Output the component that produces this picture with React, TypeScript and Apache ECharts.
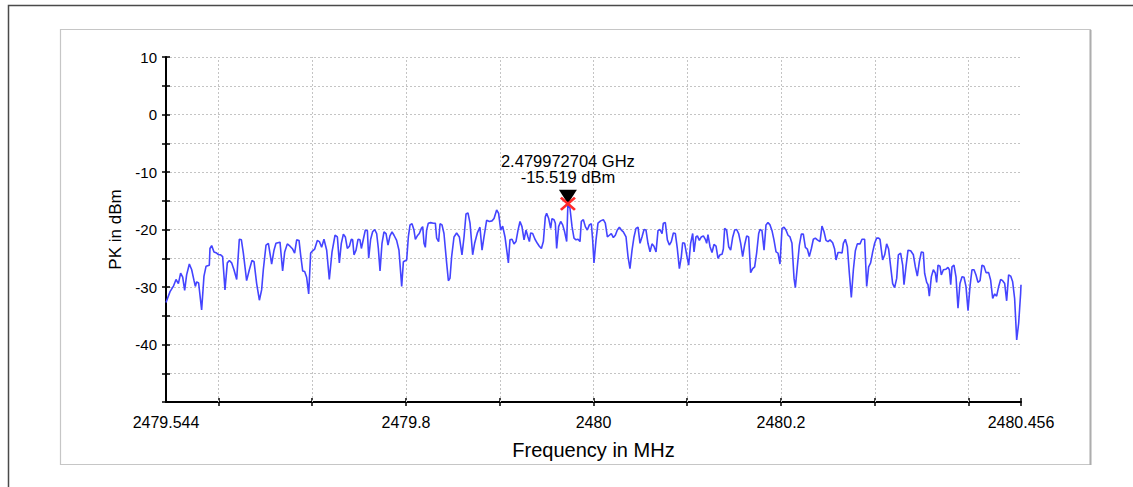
import React, { useEffect, useRef } from "react";
import * as echarts from "echarts";

const FREQ_START = 2479.544;
const FREQ_STOP = 2480.456;
const LEVEL_MIN = -50;
const LEVEL_MAX = 10;
const LEVEL_STEP = 5;

const X_LABELS = [2479.544, 2479.8, 2480, 2480.2, 2480.456];
const X_GRID = [2479.6, 2479.7, 2479.8, 2479.9, 2480.0, 2480.1, 2480.2, 2480.3, 2480.4, 2480.456];

const PEAK_FREQ = 2479.972704;
const PEAK_LEVEL = -15.519;
const PEAK_LABEL = ["2.479972704 GHz", "-15.519 dBm"];

const X_NAME = "Frequency in MHz";
const Y_NAME = "PK in dBm";

// [frequency MHz, level dBm]
const TRACE: [number, number][] = [
  [2479.544, -32.7], [2479.5483, -30.8], [2479.5518, -29.9], [2479.5547, -28.7], [2479.5572, -29.4],
  [2479.5596, -27.6], [2479.5618, -28.3], [2479.5639, -30.6], [2479.566, -27.9], [2479.5689, -26.0],
  [2479.5714, -27.0], [2479.5739, -28.9], [2479.5753, -29.9], [2479.5767, -29.1], [2479.5788, -29.3],
  [2479.582, -34.0], [2479.5845, -28.1], [2479.5867, -26.4], [2479.5902, -26.2], [2479.5909, -23.3],
  [2479.5927, -22.8], [2479.5952, -23.9], [2479.598, -24.1], [2479.6002, -24.4], [2479.6023, -24.4],
  [2479.6044, -24.7], [2479.6069, -30.5], [2479.6094, -25.8], [2479.6116, -25.4], [2479.614, -25.8],
  [2479.6165, -27.0], [2479.6194, -28.7], [2479.6222, -21.7], [2479.6244, -21.8], [2479.6265, -24.1],
  [2479.63, -28.9], [2479.6329, -27.0], [2479.6357, -25.4], [2479.6379, -25.6], [2479.6407, -29.4],
  [2479.6436, -32.3], [2479.646, -30.5], [2479.6478, -27.0], [2479.6507, -22.7], [2479.6532, -22.4],
  [2479.6567, -26.0], [2479.6592, -23.6], [2479.6613, -22.4], [2479.6656, -22.2],
  [2479.6684, -27.2], [2479.6706, -23.9], [2479.6734, -22.5], [2479.6763, -22.9], [2479.6791, -23.4],
  [2479.6812, -24.1], [2479.6834, -21.8], [2479.6859, -21.9], [2479.6876, -24.4], [2479.6898, -27.2],
  [2479.6919, -27.3], [2479.694, -28.3], [2479.6962, -31.2], [2479.6983, -24.1], [2479.7004, -23.7],
  [2479.7026, -23.4], [2479.7054, -21.9], [2479.7076, -22.1], [2479.71, -23.1], [2479.7125, -21.7],
  [2479.7154, -23.6], [2479.7182, -28.7], [2479.7211, -23.9], [2479.7243, -21.0], [2479.7268, -21.3],
  [2479.7289, -25.8], [2479.731, -22.4], [2479.7332, -20.8], [2479.7353, -21.3], [2479.7374, -23.3],
  [2479.7396, -22.9], [2479.7417, -21.7], [2479.7431, -21.8], [2479.7445, -24.4], [2479.7467, -23.6],
  [2479.7488, -21.7], [2479.7509, -21.8], [2479.7524, -23.3], [2479.7545, -21.7], [2479.7566, -20.1],
  [2479.7588, -20.2], [2479.7602, -25.0], [2479.7623, -21.7], [2479.7644, -20.4], [2479.7666, -20.0],
  [2479.7687, -20.7], [2479.7705, -23.3], [2479.7723, -27.2], [2479.7744, -22.4], [2479.7765, -20.4],
  [2479.7787, -20.7], [2479.7808, -22.7], [2479.7829, -21.1], [2479.7851, -20.4], [2479.7872, -21.0],
  [2479.79, -21.9], [2479.7925, -23.6], [2479.7954, -29.9],
  [2479.7972, -25.6], [2479.8007, -25.3], [2479.8025, -21.3], [2479.8043, -19.2], [2479.8064, -19.0],
  [2479.8085, -20.1], [2479.81, -21.7], [2479.8121, -21.1], [2479.8142, -20.7], [2479.8164, -19.8],
  [2479.8178, -19.5], [2479.8192, -22.4], [2479.8206, -23.1], [2479.822, -20.1], [2479.8238, -18.9],
  [2479.8263, -18.8], [2479.8292, -18.9], [2479.8313, -18.9], [2479.8327, -21.5], [2479.8348, -22.1],
  [2479.8363, -19.0], [2479.8384, -19.2], [2479.8405, -20.7], [2479.8434, -25.9], [2479.8452, -28.9],
  [2479.8469, -28.5], [2479.8487, -24.7], [2479.8512, -21.3], [2479.854, -20.6], [2479.8569, -21.3],
  [2479.8597, -24.4], [2479.8619, -21.3], [2479.864, -17.3], [2479.8661, -17.1], [2479.8683, -18.9],
  [2479.8711, -24.4], [2479.8732, -22.4], [2479.8761, -20.6], [2479.8789, -19.6], [2479.8811, -23.6],
  [2479.8832, -21.3], [2479.886, -18.4], [2479.8889, -18.6], [2479.8917, -18.5], [2479.8939, -18.1],
  [2479.8967, -16.6], [2479.8988, -17.2], [2479.901, -20.1], [2479.9031, -19.4], [2479.9056, -21.3],
  [2479.9081, -24.4], [2479.9092, -25.8], [2479.9109, -21.8], [2479.9131, -21.7], [2479.9152, -22.5],
  [2479.9173, -22.1], [2479.9195, -20.1], [2479.9216, -18.6],
  [2479.9237, -19.5], [2479.9259, -21.8], [2479.928, -20.1], [2479.9301, -21.3], [2479.9316, -22.1],
  [2479.933, -20.6], [2479.9351, -20.7], [2479.9376, -21.7], [2479.9401, -22.4], [2479.9422, -22.9],
  [2479.9444, -23.3], [2479.9465, -22.1], [2479.9486, -17.8], [2479.95, -17.2], [2479.9522, -18.1],
  [2479.9543, -19.8], [2479.9557, -18.1], [2479.9579, -18.3], [2479.9593, -18.9], [2479.9607, -23.3],
  [2479.9628, -19.5], [2479.965, -18.6], [2479.9671, -19.2], [2479.9692, -20.4], [2479.9714, -22.1],
  [2479.972704, -15.519], [2479.9749, -16.3], [2479.9771, -19.5], [2479.9792, -21.5], [2479.9813, -21.8],
  [2479.9835, -21.7], [2479.9856, -22.1], [2479.987, -18.6], [2479.9892, -18.3], [2479.9913, -19.5],
  [2479.9934, -20.1], [2479.9956, -19.2], [2479.9977, -19.0], [2479.9991, -21.8], [2480.0005, -25.8],
  [2480.0027, -21.8], [2480.0048, -18.9], [2480.0076, -18.5], [2480.0105, -18.3], [2480.0126, -18.9],
  [2480.0148, -21.3], [2480.0169, -21.0], [2480.019, -20.7], [2480.0212, -21.4], [2480.0233, -21.0],
  [2480.0254, -20.1], [2480.0276, -19.6], [2480.0297, -20.1], [2480.0318, -20.4], [2480.0347, -21.3],
  [2480.0368, -24.7], [2480.0389, -26.8], [2480.0411, -23.6], [2480.0432, -21.3], [2480.0453, -19.8],
  [2480.0475, -19.6], [2480.0496, -22.4],
  [2480.0517, -21.3], [2480.0539, -20.0], [2480.056, -20.1], [2480.0581, -22.4], [2480.0603, -23.9],
  [2480.0624, -22.5], [2480.0645, -22.9], [2480.0667, -23.9], [2480.0688, -20.2], [2480.0709, -20.0],
  [2480.0731, -20.7], [2480.0745, -18.9], [2480.0766, -18.8], [2480.0788, -21.8], [2480.0809, -22.7],
  [2480.083, -22.1], [2480.0852, -20.6], [2480.0873, -20.7], [2480.0894, -23.3], [2480.0916, -26.8],
  [2480.0937, -24.7], [2480.0951, -22.3], [2480.0972, -22.4], [2480.0994, -24.4], [2480.1015, -26.2],
  [2480.1036, -22.4], [2480.1058, -20.7], [2480.1072, -23.9], [2480.1093, -21.3], [2480.1108, -21.1],
  [2480.1129, -21.9], [2480.115, -21.3], [2480.1172, -21.1], [2480.1193, -21.7], [2480.1207, -22.4],
  [2480.1221, -20.9], [2480.1243, -23.0], [2480.1264, -24.0], [2480.1285, -22.6], [2480.1307, -22.9],
  [2480.1328, -25.0], [2480.1349, -24.4], [2480.1371, -24.3], [2480.1385, -23.4], [2480.1399, -19.8],
  [2480.142, -20.1], [2480.1442, -23.0], [2480.1463, -23.6], [2480.1484, -21.4], [2480.1506, -20.1],
  [2480.1527, -20.0], [2480.1548, -20.7], [2480.157, -22.4], [2480.1591, -24.7], [2480.1612, -22.7],
  [2480.1634, -21.1], [2480.1655, -21.3], [2480.1676, -27.5], [2480.1698, -26.8], [2480.1719, -26.5],
  [2480.174, -24.1], [2480.1762, -20.7],
  [2480.1776, -20.0], [2480.1797, -20.2], [2480.1819, -23.6], [2480.184, -19.2], [2480.1861, -18.8],
  [2480.1883, -19.2], [2480.1904, -20.2], [2480.1925, -21.8], [2480.1947, -23.9], [2480.1968, -24.1],
  [2480.1989, -26.0], [2480.2011, -19.8], [2480.2032, -19.6], [2480.2053, -20.1], [2480.2075, -21.0],
  [2480.2096, -21.3], [2480.2117, -22.4], [2480.2139, -28.5], [2480.2153, -30.1], [2480.2174, -26.5],
  [2480.2196, -22.7], [2480.2217, -20.8], [2480.2238, -20.8], [2480.226, -23.1], [2480.2281, -23.4],
  [2480.2302, -24.7], [2480.2324, -23.3], [2480.2345, -21.7], [2480.2366, -21.5], [2480.2388, -21.8],
  [2480.2416, -22.1], [2480.2437, -19.4], [2480.2459, -20.4], [2480.248, -21.9], [2480.2501, -22.1],
  [2480.2523, -21.8], [2480.2551, -22.3], [2480.2572, -23.4], [2480.2587, -25.3], [2480.2608, -24.0],
  [2480.2629, -24.0], [2480.2651, -24.1], [2480.2665, -22.4], [2480.2686, -21.7], [2480.2708, -23.0],
  [2480.2729, -27.6], [2480.275, -31.8], [2480.2772, -27.0], [2480.2793, -23.7], [2480.2814, -22.5],
  [2480.2843, -22.5], [2480.2864, -21.7], [2480.2892, -21.7], [2480.2914, -29.9], [2480.2935, -26.5],
  [2480.2956, -25.8], [2480.2978, -23.9], [2480.2999, -22.4], [2480.302, -21.5], [2480.3042, -21.5],
  [2480.3056, -21.7], [2480.3084, -25.3], [2480.3106, -24.4], [2480.3127, -22.5], [2480.3148, -23.4],
  [2480.317, -26.5], [2480.3191, -29.4], [2480.3212, -30.1], [2480.3234, -28.5], [2480.3252, -24.4],
  [2480.3276, -24.1], [2480.3298, -26.2], [2480.3312, -29.6], [2480.3333, -26.5], [2480.3355, -23.6],
  [2480.3383, -23.7], [2480.3412, -24.4], [2480.3433, -26.5], [2480.3454, -28.1], [2480.3476, -25.6],
  [2480.3497, -23.9], [2480.3518, -24.0], [2480.3532, -27.6], [2480.3554, -29.2], [2480.3568, -29.6],
  [2480.3582, -31.6], [2480.3604, -28.2], [2480.3625, -27.0], [2480.3646, -27.6], [2480.366, -29.2],
  [2480.3675, -26.2], [2480.3696, -26.4], [2480.371, -27.9], [2480.3732, -27.0], [2480.376, -26.9],
  [2480.3781, -26.6], [2480.3796, -27.0], [2480.381, -29.6], [2480.3824, -26.5], [2480.3845, -26.2],
  [2480.3867, -28.3], [2480.3888, -33.7], [2480.3909, -29.4], [2480.3931, -28.2], [2480.3952, -28.3],
  [2480.3973, -29.9], [2480.3995, -34.1], [2480.4016, -29.9], [2480.4037, -27.0], [2480.4059, -27.0],
  [2480.408, -27.9], [2480.4101, -29.2], [2480.4123, -28.9], [2480.4144, -26.2], [2480.4165, -26.4],
  [2480.4187, -27.5], [2480.4215, -27.5], [2480.4236, -28.8], [2480.4258, -32.0], [2480.4279, -31.2],
  [2480.43, -31.6], [2480.4322, -29.9], [2480.4343, -28.7], [2480.4364, -28.9], [2480.4386, -29.4],
  [2480.4407, -32.4], [2480.4428, -27.9], [2480.445, -28.1], [2480.4471, -29.1], [2480.4492, -32.0],
  [2480.4514, -39.2], [2480.4535, -36.3], [2480.4556, -31.1], [2480.456, -29.6],
];

const FONT = "'Liberation Sans', Arial, sans-serif";

const fmtFreq = (v: number) => String(Number(v.toFixed(3)));

export default function App() {
  const ref = useRef<HTMLDivElement>(null);

  useEffect(() => {
    if (!ref.current) return;
    const chart = echarts.init(ref.current, undefined, { renderer: "svg" });

    const axisLineStyle = { color: "#000", width: 2 };
    const tickLineStyle = { color: "#000", width: 1.5 };
    const gridLineStyle = { color: "#c4c4c4", width: 1, type: [2, 2] as number[] };

    chart.setOption({
      animation: false,
      backgroundColor: "#fff",
      textStyle: { fontFamily: FONT },
      graphic: [
        {
          type: "rect",
          shape: { x: 8.5, y: 5.5, width: 1300, height: 700 },
          style: { fill: "none", stroke: "#4a4a4a", lineWidth: 1.5 },
          silent: true,
          z: -10,
        },
        {
          type: "rect",
          shape: { x: 60.5, y: 29.5, width: 1030, height: 435 },
          style: { fill: "#fff", stroke: "#c6c6c6", lineWidth: 1.2 },
          silent: true,
          z: -9,
        },
        {
          type: "line",
          shape: { x1: 1090.5, y1: 30, x2: 1090.5, y2: 465 },
          style: { stroke: "#adadad", lineWidth: 2 },
          silent: true,
          z: -8,
        },
      ],
      grid: { left: 166, top: 57, width: 855, height: 345, containLabel: false },
      xAxis: [
        {
          type: "value",
          min: FREQ_START,
          max: FREQ_STOP,
          position: "bottom",
          name: X_NAME,
          nameLocation: "middle",
          nameGap: 38,
          nameTextStyle: { fontSize: 20, color: "#000", fontFamily: FONT },
          axisLine: { show: true, onZero: false, lineStyle: axisLineStyle },
          axisTick: { show: true, inside: false, length: 4, lineStyle: tickLineStyle, customValues: X_GRID },
          axisLabel: {
            show: true,
            margin: 12,
            fontSize: 16,
            color: "#000",
            fontFamily: FONT,
            customValues: X_LABELS,
            formatter: (v: number) => fmtFreq(v),
          },
          splitLine: { show: false },
        },
        {
          type: "value",
          min: FREQ_START,
          max: FREQ_STOP,
          position: "bottom",
          axisLine: { show: false, onZero: false },
          axisTick: { show: true, inside: true, length: 4, lineStyle: tickLineStyle, customValues: X_GRID },
          axisLabel: { show: false },
          splitLine: { show: false },
        },
      ],
      yAxis: [
        {
          type: "value",
          min: LEVEL_MIN,
          max: LEVEL_MAX,
          interval: LEVEL_STEP,
          position: "left",
          name: Y_NAME,
          nameLocation: "middle",
          nameGap: 40,
          nameRotate: 90,
          nameTextStyle: { fontSize: 17, color: "#000", fontFamily: FONT },
          axisLine: { show: true, onZero: false, lineStyle: axisLineStyle },
          axisTick: { show: true, inside: false, length: 4, lineStyle: tickLineStyle },
          axisLabel: {
            show: true,
            margin: 9,
            fontSize: 15,
            color: "#000",
            fontFamily: FONT,
            formatter: (v: number) => (v % 10 === 0 && v !== LEVEL_MIN ? String(v) : ""),
          },
          splitLine: { show: true, lineStyle: gridLineStyle },
        },
        {
          type: "value",
          min: LEVEL_MIN,
          max: LEVEL_MAX,
          interval: LEVEL_STEP,
          position: "left",
          axisLine: { show: false, onZero: false },
          axisTick: { show: true, inside: true, length: 4, lineStyle: tickLineStyle },
          axisLabel: { show: false },
          splitLine: { show: false },
        },
      ],
      series: [
        {
          type: "line",
          data: TRACE,
          xAxisIndex: 0,
          yAxisIndex: 0,
          showSymbol: false,
          symbol: "none",
          lineStyle: { color: "#4444ff", width: 1.6 },
          z: 3,
          markLine: {
            silent: true,
            z: 1,
            symbol: ["none", "none"],
            label: { show: false },
            lineStyle: gridLineStyle,
            emphasis: { disabled: true },
            data: X_GRID.map((v) => ({ xAxis: v })),
          },
        },
        {
          type: "scatter",
          data: [[PEAK_FREQ, PEAK_LEVEL]],
          symbol: "triangle",
          symbolRotate: 180,
          symbolSize: [18, 14],
          symbolOffset: [0, -7],
          itemStyle: { color: "#000", opacity: 1 },
          z: 4,
          silent: true,
          label: {
            show: true,
            position: "top",
            distance: 5,
            formatter: PEAK_LABEL.join("\n"),
            fontSize: 16.5,
            lineHeight: 16,
            color: "#000",
            opacity: 1,
            fontFamily: FONT,
            align: "center",
          },
        },
        {
          type: "scatter",
          data: [[PEAK_FREQ, PEAK_LEVEL]],
          symbol: "path://M0,1.2L1.2,0L10,8.8L8.8,10ZM8.8,0L10,1.2L1.2,10L0,8.8Z",
          symbolKeepAspect: false,
          symbolSize: [16, 14],
          itemStyle: { color: "#ff2a2a", opacity: 1 },
          z: 5,
          silent: true,
        },
      ],
    });

    return () => chart.dispose();
  }, []);

  return (
    <div
      ref={ref}
      style={{ position: "absolute", left: 0, top: 0, width: 1133, height: 487, background: "#fff" }}
    />
  );
}
